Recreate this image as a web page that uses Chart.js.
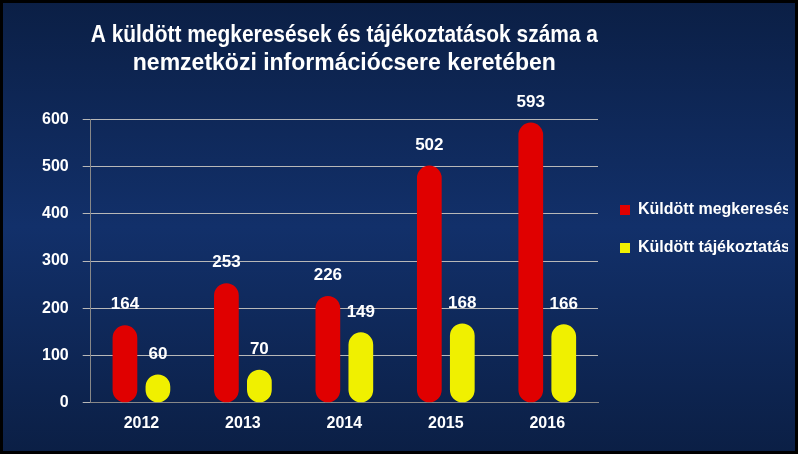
<!DOCTYPE html>
<html><head><meta charset="utf-8">
<script src="https://cdn.jsdelivr.net/npm/chart.js@4"></script>
<style>
html,body{margin:0;padding:0;background:#000;}
</style></head>
<body><canvas id="c" width="798" height="454"></canvas>
<script>
// values
const years = ['2012', '2013', '2014', '2015', '2016'];
const requests = [164, 253, 226, 502, 593];
const notices = [60, 70, 149, 168, 166];
const seriesNames = ['Küldött megkeresések', 'Küldött tájékoztatások'];

// dark blue background behind everything
const bgPlugin = {
    id: 'bg',
    beforeDraw(chart) {
        const { ctx, width, height } = chart;
        const g = ctx.createLinearGradient(0, 0, 0, height);
        g.addColorStop(0, '#0b1f45');
        g.addColorStop(0.5, '#12306a');
        g.addColorStop(1, '#0b1f45');
        ctx.save();
        ctx.fillStyle = g;
        ctx.fillRect(3, 3, width - 6, height - 6);
        ctx.restore();
    },
};

// value labels above the bars
const labelPlugin = {
    id: 'labels',
    afterDatasetsDraw(chart) {
        const { ctx } = chart;
        ctx.save();
        ctx.fillStyle = '#fff';
        ctx.font = 'bold 17px "Liberation Sans", Arial';
        ctx.textAlign = 'center';
        ctx.textBaseline = 'bottom';
        chart.data.datasets.forEach((ds, i) => {
            chart.getDatasetMeta(i).data.forEach((bar, j) => {
                ctx.fillText(ds.data[j], bar.x, bar.y - 12);
            });
        });
        ctx.restore();
    },
};

function cyl(ctx, light, mid, dark) {
    const el = ctx.element;
    if (!el || !el.width) return mid;
    const g = ctx.chart.ctx.createLinearGradient(el.x - el.width / 2, 0, el.x + el.width / 2, 0);
    g.addColorStop(0, dark);
    g.addColorStop(0.35, light);
    g.addColorStop(1, dark);
    return g;
}

const fontBold = (s) => ({ size: s, weight: 'bold', family: '"Liberation Sans", Arial' });

new Chart(document.getElementById('c'), {
    type: 'bar',
    data: {
        labels: years,
        datasets: [
            {
                label: seriesNames[0],
                data: requests,
                backgroundColor: (c) => cyl(c, '#ff3030', '#e00000', '#a00000'),
                borderRadius: 14,
                borderSkipped: false,
                categoryPercentage: 0.65,
                barPercentage: 0.75,
            },
            {
                label: seriesNames[1],
                data: notices,
                backgroundColor: (c) => cyl(c, '#ffff60', '#f0f000', '#b0b000'),
                borderRadius: 14,
                borderSkipped: false,
                categoryPercentage: 0.65,
                barPercentage: 0.75,
            },
        ],
    },
    options: {
        responsive: false,
        animation: false,
        devicePixelRatio: 1,
        layout: { padding: { top: 22, left: 28, right: 10, bottom: 18 } },
        plugins: {
            title: {
                display: true,
                text: ['A küldött megkeresések és tájékoztatások száma a', 'nemzetközi információcsere keretében'],
                color: '#fff',
                font: fontBold(23),
                padding: { top: 0, bottom: 42 },
                fullSize: false,
            },
            legend: {
                position: 'right',
                align: 'center',
                labels: {
                    color: '#fff',
                    font: fontBold(16),
                    boxWidth: 10,
                    boxHeight: 10,
                    padding: 22,
                    generateLabels: (chart) => chart.data.datasets.map((ds, i) => ({
                        text: ds.label.split(' ').join('\n'),
                        fillStyle: i === 0 ? '#e00000' : '#f0f000',
                        strokeStyle: 'transparent',
                        fontColor: '#fff',
                        datasetIndex: i,
                    })),
                },
            },
            tooltip: { enabled: false },
        },
        scales: {
            x: {
                grid: { display: false },
                border: { color: '#888' },
                ticks: { color: '#fff', font: fontBold(16) },
            },
            y: {
                min: 0, max: 600,
                ticks: { stepSize: 100, color: '#fff', font: fontBold(16), padding: 14 },
                grid: { color: '#b8b8b8', lineWidth: 1 },
                border: { color: '#888' },
            },
        },
    },
    plugins: [bgPlugin, labelPlugin],
});
</script>
</body></html>
